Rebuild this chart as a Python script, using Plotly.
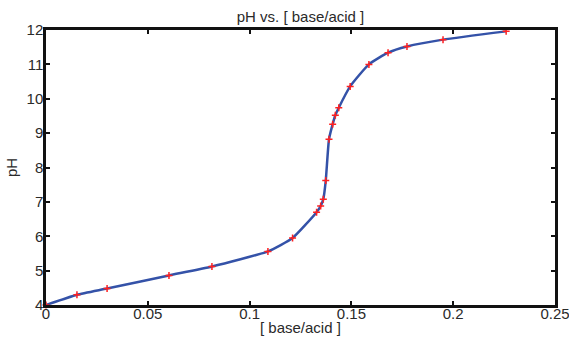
import plotly.graph_objects as go

x_ratio = [0.0, 0.0152, 0.0300, 0.0604, 0.0815, 0.1090, 0.1211, 0.1329, 0.1349, 0.1362, 0.1374,
           0.1390, 0.1408, 0.1421, 0.1438, 0.1494, 0.1586, 0.1680, 0.1773, 0.1950, 0.2260]
ph = [4.00, 4.30, 4.48, 4.86, 5.12, 5.56, 5.95, 6.70, 6.88, 7.08, 7.62,
      8.82, 9.26, 9.52, 9.74, 10.36, 11.00, 11.34, 11.52, 11.72, 11.96]

x_ticks = [0, 0.05, 0.1, 0.15, 0.2, 0.25]
x_tick_text = ["0", "0.05", "0.1", "0.15", "0.2", "0.25"]
y_ticks = [4, 5, 6, 7, 8, 9, 10, 11, 12]

fig = go.Figure()
fig.add_trace(go.Scatter(x=x_ratio, y=ph, mode="lines",
                         line=dict(color="#3452a8", width=2.5, shape="spline", smoothing=0.5),
                         hoverinfo="skip", showlegend=False, cliponaxis=False))
fig.add_trace(go.Scatter(x=x_ratio, y=ph, mode="markers",
                         marker=dict(symbol="cross-thin", size=5, line=dict(color="#ff2020", width=1.5)),
                         showlegend=False, cliponaxis=False))

font = "Liberation Sans, Arial, sans-serif"
fig.update_layout(
    width=569, height=341,
    margin=dict(l=46, r=14, t=30, b=36, autoexpand=False),
    paper_bgcolor="white", plot_bgcolor="white",
    font=dict(family=font, size=15, color="#2a2a2a"),
    title=dict(text="pH vs. [ base/acid ]", x=0.5, xref="paper", xanchor="center",
               y=1 - 17 / 341, yref="container", yanchor="middle", automargin=False,
               font=dict(size=15, color="#2a2a2a", family=font)),
    xaxis=dict(range=[0, 0.25], tickvals=x_ticks, ticktext=x_tick_text, automargin=False,
               ticklabeloverflow="allow", ticklabelstandoff=-7,
               showgrid=False, zeroline=False, showline=True, linecolor="#111111", linewidth=2.5,
               mirror="ticks", ticks="inside", ticklen=4, tickwidth=1.5, tickcolor="#111111"),
    yaxis=dict(range=[4, 12], tickvals=y_ticks, automargin=False, ticklabelstandoff=-3,
               showgrid=False, zeroline=False, showline=True, linecolor="#111111", linewidth=2.5,
               mirror="ticks", ticks="inside", ticklen=4, tickwidth=1.5, tickcolor="#111111",
               title=dict(text="pH", font=dict(size=15), standoff=6)),
    annotations=[dict(text="[ base/acid ]", x=0.5, xref="paper", xanchor="center",
                      y=-22 / 275, yref="paper", yanchor="middle", showarrow=False,
                      font=dict(size=15, color="#2a2a2a", family=font))],
)

fig.write_html("out.html", config={"displayModeBar": False},
               post_script="document.body.style.margin='0';document.body.style.overflow='hidden';")
